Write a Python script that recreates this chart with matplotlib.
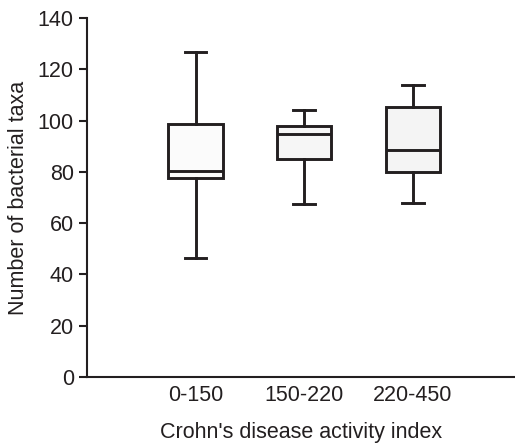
import matplotlib.pyplot as plt

# box statistics
groups = ['0-150', '150-220', '220-450']
whislo = [46.3, 67.4, 68.0]
q1 = [77.7, 84.9, 79.9]
med = [80.4, 94.7, 88.4]
q3 = [98.6, 97.7, 105.4]
whishi = [126.6, 104.3, 113.8]
fills = ['#fbfbfb', '#f6f6f6', '#f4f4f4']

ink = '#231f20'
plt.rcParams['font.family'] = ['Liberation Sans', 'DejaVu Sans']
fs = 15.5

fig = plt.figure(figsize=(5.15, 4.43), dpi=100)
ax = fig.add_axes([87 / 515, 66 / 443, 428 / 515, 359 / 443])

stats = []
for i in range(len(groups)):
    stats.append({'label': groups[i], 'whislo': whislo[i], 'q1': q1[i], 'med': med[i],
                  'q3': q3[i], 'whishi': whishi[i], 'fliers': []})

lw = 2.1
bp = ax.bxp(stats, positions=[1, 2, 3], widths=0.5, patch_artist=True, showfliers=False,
            boxprops=dict(edgecolor=ink, linewidth=lw),
            medianprops=dict(color=ink, linewidth=lw),
            whiskerprops=dict(color=ink, linewidth=lw),
            capprops=dict(color=ink, linewidth=lw),
            capwidths=0.2)
for patch, c in zip(bp['boxes'], fills):
    patch.set_facecolor(c)

ax.set_xlim(0, 3.94)
ax.set_ylim(0, 140)
ax.set_yticks(range(0, 141, 20))
ax.spines['top'].set_visible(False)
ax.spines['right'].set_visible(False)
for s in ['left', 'bottom']:
    ax.spines[s].set_linewidth(1.5)
    ax.spines[s].set_color(ink)

ax.tick_params(axis='y', direction='out', length=5.5, width=1.5, color=ink,
               labelsize=fs, labelcolor=ink, pad=4)
ax.tick_params(axis='x', length=0, labelsize=fs, labelcolor=ink, pad=6)

ax.set_xlabel("Crohn's disease activity index", fontsize=fs, color=ink, labelpad=11)
ax.set_ylabel('Number of bacterial taxa', fontsize=fs, color=ink, labelpad=6)

fig.savefig('out.png', dpi=100)
